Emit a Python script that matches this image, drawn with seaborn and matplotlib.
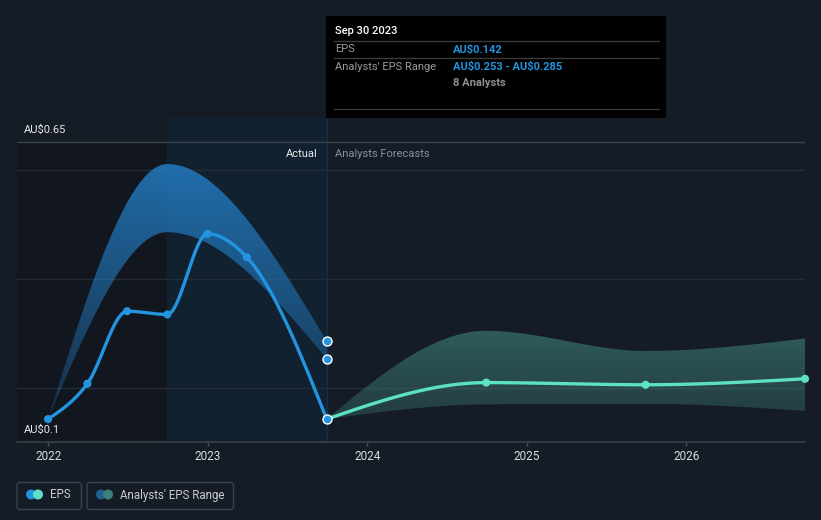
import numpy as np
import pandas as pd
import matplotlib
matplotlib.use("Agg")
import matplotlib.pyplot as plt
import seaborn as sns
from matplotlib.patches import PathPatch, FancyBboxPatch, Circle, Rectangle

# ---------------- data ----------------
eps_dates = ["2021-12-31", "2022-03-31", "2022-06-30", "2022-09-30",
             "2022-12-31", "2023-03-31", "2023-09-30"]
eps_values = [0.142, 0.207, 0.340, 0.334, 0.482, 0.439, 0.142]

past_range_dates = ["2021-12-31", "2022-09-30", "2023-09-30"]
past_range_low = [0.142, 0.485, 0.253]
past_range_high = [0.142, 0.610, 0.285]

forecast_dates = ["2023-09-30", "2024-09-30", "2025-09-30", "2026-09-30"]
forecast_eps = [0.142, 0.209, 0.205, 0.216]
forecast_low = [0.142, 0.169, 0.170, 0.157]
forecast_high = [0.142, 0.304, 0.267, 0.290]

year_ticks = [2022, 2023, 2024, 2025, 2026]
year_labels = ["2022", "2023", "2024", "2025", "2026"]

# ---------------- helpers ----------------
def to_year(s):
    d = pd.Timestamp(s)
    return d.year + (d.dayofyear - 1) / (366 if d.is_leap_year else 365)


def monotone(x, y, n=60):
    """Monotone cubic (d3 curveMonotoneX style) rendering of a polyline."""
    x = np.asarray(x, float)
    y = np.asarray(y, float)
    h = np.diff(x)
    s = np.diff(y) / h
    m = np.zeros(len(x))
    for i in range(1, len(x) - 1):
        p = (s[i - 1] * h[i] + s[i] * h[i - 1]) / (h[i - 1] + h[i])
        m[i] = (np.sign(s[i - 1]) + np.sign(s[i])) * min(abs(s[i - 1]), abs(s[i]), 0.5 * abs(p))
    if len(x) > 2:
        m[0] = (3 * s[0] - m[1]) / 2
        m[-1] = (3 * s[-1] - m[-2]) / 2
    else:
        m[0] = m[-1] = s[0]
    xs, ys = [], []
    for i in range(len(x) - 1):
        u = np.linspace(0, 1, n, endpoint=(i == len(x) - 2))
        h00 = 2 * u**3 - 3 * u**2 + 1
        h10 = u**3 - 2 * u**2 + u
        h01 = -2 * u**3 + 3 * u**2
        h11 = u**3 - u**2
        xs.append(x[i] + u * h[i])
        ys.append(h00 * y[i] + h10 * h[i] * m[i] + h01 * y[i + 1] + h11 * h[i] * m[i + 1])
    return np.concatenate(xs), np.concatenate(ys)


def gradient_band(ax, xs, lo, hi, rgb, a_lo, a_hi, y0, y1, zorder):
    poly = ax.fill_between(xs, lo, hi, facecolor="none", edgecolor="none")
    path = poly.get_paths()[0]
    patch = PathPatch(path, facecolor="none", edgecolor="none", transform=ax.transData)
    ax.add_patch(patch)
    N = 256
    grad = np.zeros((N, 1, 4))
    grad[:, 0, 0] = rgb[0] / 255
    grad[:, 0, 1] = rgb[1] / 255
    grad[:, 0, 2] = rgb[2] / 255
    grad[:, 0, 3] = np.linspace(a_lo, a_hi, N)
    im = ax.imshow(grad, extent=[xs.min(), xs.max(), y0, y1], origin="lower",
                   aspect="auto", zorder=zorder, interpolation="bilinear")
    im.set_clip_path(patch)


# ---------------- style ----------------
BG = "#161c26"
sns.set_style("dark", {"axes.facecolor": BG, "figure.facecolor": BG})
plt.rcParams["font.family"] = ["Roboto", "DejaVu Sans"]

W, H = 821, 520
fig = plt.figure(figsize=(W / 100, H / 100), dpi=100, facecolor=BG)

ax = fig.add_axes([17 / W, 1 - 442 / H, 788 / W, 324 / H])
ax.patch.set_alpha(0)

eps_x = [to_year(d) for d in eps_dates]
pr_x = [to_year(d) for d in past_range_dates]
fc_x = [to_year(d) for d in forecast_dates]

x_left = 2022 - 31.5 / 159.5
x_right = fc_x[-1]
y_low, y_high = 0.1, 0.1 + 324 / 545

# background regions
ax.fill_between([x_left, pr_x[1]], [0.1, 0.1], [0.65, 0.65], color="#12161e", zorder=0, lw=0)
ax.axvspan(pr_x[1], eps_x[-1], color="#11212f", zorder=0, lw=0)
ax.axvline(eps_x[-1], color="#16304a", lw=1, zorder=0.5)

# grid lines
for g in [0.2, 0.4, 0.6]:
    ax.axhline(g, color="#262c37", lw=1, zorder=1)
ax.axhline(0.65, color="#3a404a", lw=1, zorder=1)
ax.axhline(0.1, color="#3a404a", lw=1.2, zorder=1, clip_on=False)

# bands
bx, bhi = monotone(pr_x, past_range_high)
_, blo = monotone(pr_x, past_range_low)
gradient_band(ax, bx, blo, bhi, (35, 122, 192), 0.25, 0.88, 0.14, 0.62, 2)

fx_, fhi = monotone(fc_x, forecast_high)
_, flo = monotone(fc_x, forecast_low)
gradient_band(ax, fx_, flo, fhi, (72, 152, 142), 0.26, 0.52, 0.14, 0.31, 2)

# lines
ex, ey = monotone(eps_x, eps_values)
sns.lineplot(x=ex, y=ey, ax=ax, color="#2394df", lw=2.4, sort=False, estimator=None, zorder=4)
tx, ty = monotone(fc_x, forecast_eps)
sns.lineplot(x=tx, y=ty, ax=ax, color="#5ce0c6", lw=2.4, sort=False, estimator=None, zorder=4)

# markers
sns.scatterplot(x=eps_x[:-1], y=eps_values[:-1], ax=ax, s=34, color="#2394df",
                edgecolor="none", zorder=5, clip_on=False)
sns.scatterplot(x=fc_x[1:], y=forecast_eps[1:], ax=ax, s=34, color="#5ce0c6",
                edgecolor="none", zorder=5, clip_on=False)
sns.scatterplot(x=[eps_x[-1]] * 3, y=[eps_values[-1], past_range_low[-1], past_range_high[-1]],
                ax=ax, s=42, color="#2394df", edgecolor="white", linewidth=1,
                zorder=6, clip_on=False)

ax.set_xlim(x_left, x_right)
ax.set_ylim(y_low, y_high)
ax.set_xticks(year_ticks)
ax.set_xticklabels(year_labels)
ax.set_yticks([])
ax.tick_params(axis="x", length=3, width=1, color="#4a505a", labelcolor="#d9dce0",
               labelsize=8.5, pad=3, direction="out", bottom=True)
for sp in ax.spines.values():
    sp.set_visible(False)
ax.set_xlabel("")
ax.set_ylabel("")
ax.grid(False)

# ---------------- overlay (pixel coordinates) ----------------
ov = fig.add_axes([0, 0, 1, 1], zorder=10)
ov.set_xlim(0, W)
ov.set_ylim(H, 0)
ov.axis("off")
ov.patch.set_alpha(0)

ov.text(24, 130, "AU$0.65", color="#e6e8eb", fontsize=8, va="center", parse_math=False)
ov.text(24, 430, "AU$0.1", color="#e6e8eb", fontsize=8, va="center", parse_math=False)
ov.text(318, 154, "Actual", color="#e8eaed", fontsize=8, va="center", ha="right")
ov.text(335, 154, "Analysts Forecasts", color="#8a9099", fontsize=8, va="center", ha="left")

# tooltip
ov.add_patch(Rectangle((326, 16), 340, 102, facecolor="#000000", edgecolor="none"))
for yy in [41.3, 58.3, 109.3]:
    ov.plot([334, 658.5], [yy, yy], color="#3a3a3a", lw=1)
ov.text(335, 31, "Sep 30 2023", color="#ffffff", fontsize=8, va="center", fontweight="medium")
ov.text(335, 49.5, "EPS", color="#9a9a9a", fontsize=8, va="center")
ov.text(453, 49.5, "AU$0.142", color="#2394df", fontsize=8, va="center",
        fontweight="bold", parse_math=False)
ov.text(335, 66.5, "Analysts' EPS Range", color="#9a9a9a", fontsize=8, va="center")
ov.text(453, 66.5, "AU$0.253 - AU$0.285", color="#2394df", fontsize=8, va="center",
        fontweight="bold", parse_math=False)
ov.text(453, 83.5, "8 Analysts", color="#8f8f8f", fontsize=8, va="center", fontweight="bold")

# legend
ov.add_patch(FancyBboxPatch((17, 482.5), 64.5, 27, boxstyle="round,pad=0,rounding_size=3",
                            facecolor="none", edgecolor="#3b414b", lw=1))
ov.add_patch(FancyBboxPatch((87, 482.5), 146.5, 27, boxstyle="round,pad=0,rounding_size=3",
                            facecolor="none", edgecolor="#3b414b", lw=1))
ov.add_patch(Circle((31, 494.5), 4.3, color="#2394df"))
ov.add_patch(Circle((38, 494.5), 4.3, color="#5ce0c6"))
ov.add_patch(Circle((101, 494.5), 4.3, color="#1f5f94"))
ov.add_patch(Circle((108, 494.5), 4.3, color="#3b7f79"))
ov.text(50, 495, "EPS", color="#c9ccd1", fontsize=8.3, va="center")
ov.text(120.5, 495, "Analysts' EPS Range", color="#c9ccd1", fontsize=8.3, va="center")

fig.savefig("out.png", dpi=100, facecolor=BG)
